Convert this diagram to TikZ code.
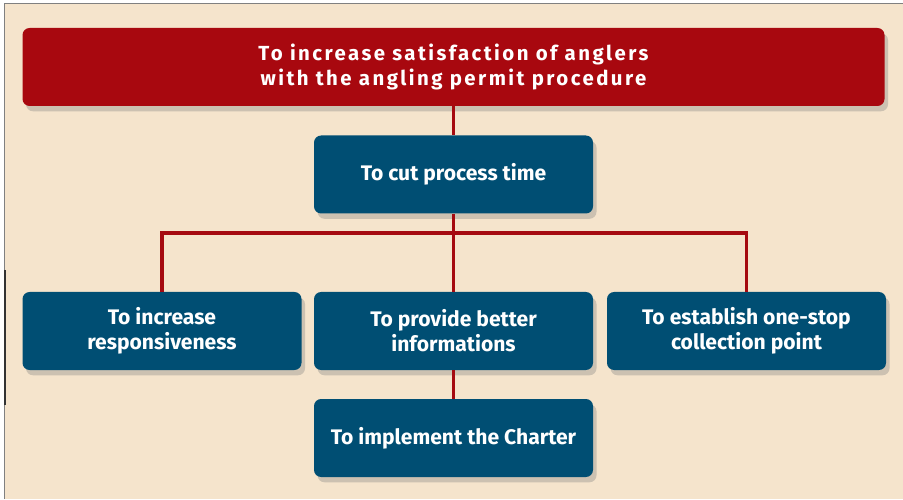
\documentclass[tikz,border=0pt]{standalone}
\usepackage{fontspec}
\setmainfont{Fira Sans}
\newfontfamily\widefont[LetterSpace=12]{Fira Sans}
\usetikzlibrary{shadows}

\definecolor{paper}{HTML}{F5E4CC}
\definecolor{goalred}{HTML}{A8080F}
\definecolor{boxblue}{HTML}{004E73}
\definecolor{linkred}{HTML}{A50A10}

\tikzset{
	goalbox/.style={fill=goalred,rounded corners=4pt,minimum width=17.24cm,minimum height=1.56cm,
		text=white,font=\widefont\bfseries\fontsize{11.6}{14.2}\selectfont,align=center,
		drop shadow={opacity=0.35,shadow xshift=2pt,shadow yshift=-3pt}},
	aimbox/.style={fill=boxblue,rounded corners=4pt,minimum width=5.58cm,minimum height=1.56cm,
		text=white,font=\bfseries\fontsize{12}{14.2}\selectfont,align=center,
		drop shadow={opacity=0.35,shadow xshift=2pt,shadow yshift=-3pt}},
	link/.style={draw=linkred,line width=2.1pt}
}

\begin{document}
\begin{tikzpicture}
		\useasboundingbox (0,0) rectangle (18.06,9.98);
		\fill[white] (0,0) rectangle (18.06,9.98);
		\fill[paper] (0.09,0) rectangle (18.06,9.92);
		\draw[gray] (0.09,0) -- (0.09,9.92) -- (18.06,9.92);
		\draw[black!80,line width=1pt] (0.1,4.58) -- (0.1,1.88);
		
		\node[goalbox] (goal) at (9.07,8.64) {To increase satisfaction of anglers\\with the angling permit procedure};
		\node[aimbox] (cut) at (9.07,6.49) {To cut process time};
		
		\node[aimbox] (resp) at (3.24,3.36) {To increase\\responsiveness};
		\node[aimbox] (info) at (9.07,3.36) {To provide better\\informations};
		\node[aimbox] (stop) at (14.93,3.36) {To establish one-stop\\collection point};
		
		\node[aimbox] (charter) at (9.07,1.22) {To implement the Charter};
		
		% links
		\coordinate (bar) at (9.07,5.32);
		\draw[link] (goal) -- (cut);
		\draw[link] (cut) -- (info);
		\draw[link] (info) -- (charter);
		\draw[link] (resp.north) |- (bar) -| (stop.north);
	\end{tikzpicture}
\end{document}
